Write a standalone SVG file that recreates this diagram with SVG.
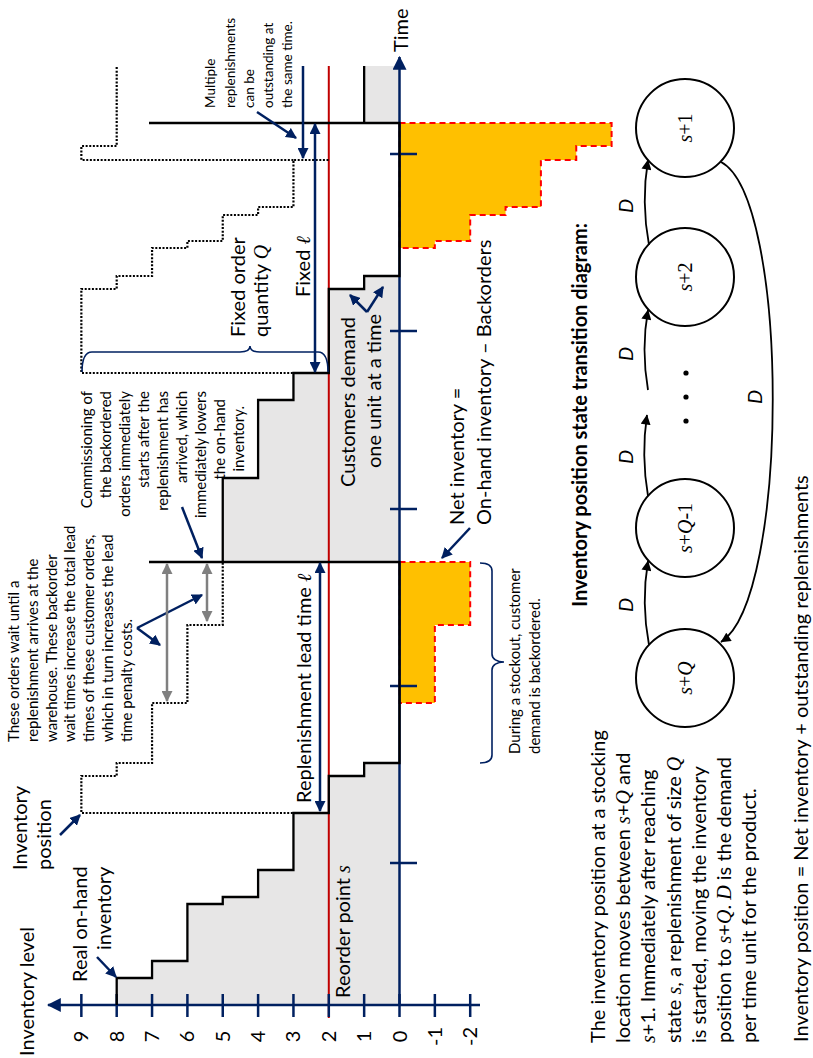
<svg xmlns="http://www.w3.org/2000/svg" width="813" height="1058" viewBox="0 0 813 1058">
<style>
text{font-family:Lato,'Open Sans',sans-serif;fill:#000}
.f20{font-size:20px}
.f15{font-size:15px}
.f13{font-size:13.5px}
.b{font-weight:bold}
.m{font-family:'Liberation Serif','DejaVu Serif',serif;font-style:italic}
.mr{font-family:'Liberation Serif','DejaVu Serif',serif;font-style:normal}
.nav{stroke:#002060;stroke-width:2.5;fill:none}
.axis{stroke:#002060;stroke-width:2.5;fill:none}
.tick{stroke:#002060;stroke-width:2.5}
.brace{stroke:#002060;stroke-width:1.6;fill:none}
.grey{stroke:#808080;stroke-width:2.5;fill:none}
.dot{stroke:#000;stroke-width:2.2;stroke-dasharray:2 1.6;fill:none}
.bo{fill:#ffc000;stroke:#ff0000;stroke-width:2;stroke-dasharray:6 4}
.onh{stroke:#000;stroke-width:2.3;fill:none}
.state{fill:#fff;stroke:#000;stroke-width:2}
.edge{stroke:#000;stroke-width:1.8;fill:none}
</style>
<defs>
<marker id="ax" viewBox="0 0 12 12" refX="11" refY="6" markerWidth="14" markerHeight="14" markerUnits="userSpaceOnUse" orient="auto"><path d="M0,0 L12,6 L0,12 z" fill="#002060"/></marker>
<marker id="na" viewBox="0 0 10 10" refX="9" refY="5" markerWidth="11" markerHeight="11" markerUnits="userSpaceOnUse" orient="auto-start-reverse"><path d="M0,0 L10,5 L0,10 z" fill="#002060"/></marker>
<marker id="ga" viewBox="0 0 10 10" refX="9" refY="5" markerWidth="11" markerHeight="11" markerUnits="userSpaceOnUse" orient="auto-start-reverse"><path d="M0,0 L10,5 L0,10 z" fill="#808080"/></marker>
<marker id="ka" viewBox="0 0 10 10" refX="9.5" refY="5" markerWidth="11" markerHeight="10" markerUnits="userSpaceOnUse" orient="auto"><path d="M0,0 L10,5 L0,10 z" fill="#000"/></marker>
</defs>
<g transform="translate(0,1058) rotate(-90)">
<g id="chart">
<path id="onhand-fill" d="M53,399.5 V116.7 H80 V152.05 H97 V187.4 H154 V222.75 H161 V258.1 H188 V293.45 H245 V328.8 H282 V364.15 H295 V399.5 H496 V222.75 H580 V258.1 H658 V293.45 H685 V328.8 H769 V364.15 H782 V399.5 H935 V364.15 H992 V399.5 Z" fill="#e7e6e6"/>
<path id="backorders-1" class="bo" d="M496,399.5 V470.2 H433 V434.85 H355 V399.5 Z"/>
<path id="backorders-2" class="bo" d="M935,399.5 V611.6 H912 V576.25 H898 V540.9 H851 V505.55 H843 V470.2 H817 V434.85 H810 V399.5 Z"/>
<line id="reorder-line" x1="40" y1="328.8" x2="992" y2="328.8" stroke="#c00000" stroke-width="2"/>
<g id="inventory-position">
<path class="dot" d="M245,328.8 V81.35 H282 V116.7 H295 V152.05 H355 V187.4 H433 V222.75 H496"/>
<path class="dot" d="M685,328.8 V81.35 H769 V116.7 H782 V152.05 H810 V187.4 H817 V222.75 H843 V258.1 H851 V293.45 H898 V328.8"/>
<path class="dot" d="M898,293.45 V81.35 H912 V116.7 H992"/>
</g>
<g id="axes">
<line class="axis" x1="53" y1="480" x2="53" y2="48" marker-end="url(#ax)"/>
<line class="axis" x1="53" y1="399.5" x2="1001" y2="399.5" marker-end="url(#ax)"/>
<g class="tick">
<line x1="41" y1="81.35" x2="64" y2="81.35"/><line x1="41" y1="116.7" x2="64" y2="116.7"/><line x1="41" y1="152.05" x2="64" y2="152.05"/><line x1="41" y1="187.4" x2="64" y2="187.4"/><line x1="41" y1="222.75" x2="64" y2="222.75"/><line x1="41" y1="258.1" x2="64" y2="258.1"/><line x1="41" y1="293.45" x2="64" y2="293.45"/><line x1="41" y1="328.8" x2="64" y2="328.8"/><line x1="41" y1="364.15" x2="64" y2="364.15"/><line x1="41" y1="399.5" x2="64" y2="399.5"/><line x1="41" y1="434.85" x2="64" y2="434.85"/><line x1="41" y1="470.2" x2="64" y2="470.2"/>
<line x1="195" y1="390" x2="195" y2="417"/><line x1="372" y1="390" x2="372" y2="417"/><line x1="549" y1="390" x2="549" y2="417"/><line x1="727" y1="390" x2="727" y2="417"/><line x1="904" y1="390" x2="904" y2="417"/>
</g>
<g class="f20" text-anchor="middle">
<text x="21.5" y="88.3">9</text><text x="21.5" y="123.7">8</text><text x="21.5" y="159">7</text><text x="21.5" y="194.4">6</text><text x="21.5" y="229.7">5</text><text x="21.5" y="265.1">4</text><text x="21.5" y="300.4">3</text><text x="21.5" y="335.8">2</text><text x="21.5" y="371.1">1</text><text x="21.5" y="406.5">0</text><text x="21.5" y="441.8">-1</text><text x="21.5" y="477.2">-2</text>
</g>
<text class="f20" x="2" y="34">Inventory level</text>
<text class="f20" x="1006" y="408">Time</text>
</g>
<path id="onhand-line" class="onh" d="M53,116.7 H80 V152.05 H97 V187.4 H154 V222.75 H161 V258.1 H188 V293.45 H245 V328.8 H282 V364.15 H295 V399.5 H496 V222.75 H580 V258.1 H658 V293.45 H685 V328.8 H769 V364.15 H782 V399.5 H935 V364.15 H992 M496,149 V399.5 M935,149 V399.5"/>
</g>
<g id="annotations">
<text class="f20" x="76" y="87">Real on-hand</text>
<text class="f20" x="108" y="111">inventory</text>
<text class="f20" x="188" y="27">Inventory</text>
<text class="f20" x="188" y="51">position</text>
<text class="f20" x="60" y="350">Reorder point <tspan class="m">s</tspan></text>
<text class="f20" x="255" y="311">Replenishment lead time <tspan class="m">ℓ</tspan></text>
<text class="f20" x="761" y="310">Fixed <tspan class="m">ℓ</tspan></text>
<text class="f20" x="721" y="245">Fixed order</text>
<text class="f20" x="721" y="268">quantity <tspan class="m">Q</tspan></text>
<text class="f20" x="571" y="355">Customers demand</text>
<text class="f20" x="590" y="381">one unit at a time</text>
<text class="f20" x="533" y="464">Net inventory =</text>
<text class="f20" x="533" y="491">On-hand inventory – Backorders</text>
<text class="f15" x="304" y="520">During a stockout, customer</text>
<text class="f15" x="304" y="540">demand is backordered.</text>
<g class="f15">
<text x="316" y="19">These orders wait until a</text>
<text x="316" y="37.8">replenishment arrives at the</text>
<text x="316" y="56.6">warehouse. These backorder</text>
<text x="316" y="75.4">wait times increase the total lead</text>
<text x="316" y="94.2">times of these customer orders,</text>
<text x="316" y="113">which in turn increases the lead</text>
<text x="316" y="131.8">time penalty costs.</text>
</g>
<g class="f15" text-anchor="end">
<text x="667" y="92">Commissioning of</text>
<text x="667" y="111">the backordered</text>
<text x="667" y="130">orders immediately</text>
<text x="667" y="149">starts after the</text>
<text x="667" y="168">replenishment has</text>
<text x="667" y="187">arrived, which</text>
<text x="667" y="206">immediately lowers</text>
<text x="659" y="225">the on-hand</text>
<text x="652" y="244">inventory.</text>
</g>
<g class="f13">
<text x="950" y="215">Multiple</text>
<text x="950" y="235">replenishments</text>
<text x="950" y="254">can be</text>
<text x="950" y="273">outstanding at</text>
<text x="950" y="292">the same time.</text>
</g>
<path class="brace" d="M686,82 C697,82 706,84 706,92 V240 C706,246 708,250 712,250 C708,250 706,254 706,260 V318 C706,326 697,328 686,328"/>
<path class="brace" d="M295,480 C295,487 297,492 303,492 H388 C393,492 396,497 396,504 C396,497 399,492 404,492 H487 C493,492 495,487 495,480"/>
<g id="annotation-arrows">
<line class="nav" x1="101" y1="97" x2="81" y2="116" marker-end="url(#na)"/>
<line class="nav" x1="223" y1="60" x2="243" y2="80" marker-end="url(#na)"/>
<line class="nav" x1="530" y1="470" x2="500" y2="442" marker-end="url(#na)"/>
<line class="nav" x1="551" y1="182" x2="500" y2="202" marker-end="url(#na)"/>
<line class="nav" x1="430" y1="137" x2="413" y2="160" marker-end="url(#na)"/>
<line class="nav" x1="430" y1="137" x2="463" y2="202" marker-end="url(#na)"/>
<line class="nav" x1="746" y1="367" x2="763" y2="350" marker-end="url(#na)"/>
<line class="nav" x1="746" y1="367" x2="771" y2="383" marker-end="url(#na)"/>
<line class="nav" x1="946" y1="257" x2="920" y2="296" marker-end="url(#na)"/>
<line class="nav" x1="992" y1="303" x2="900" y2="303" marker-end="url(#na)"/>
<line class="nav" x1="247" y1="320" x2="495" y2="320" marker-start="url(#na)" marker-end="url(#na)"/>
<line class="nav" x1="686" y1="315" x2="934" y2="315" marker-start="url(#na)" marker-end="url(#na)"/>
<line class="grey" x1="357" y1="167" x2="494" y2="167" marker-start="url(#ga)" marker-end="url(#ga)"/>
<line class="grey" x1="437" y1="207" x2="494" y2="207" marker-start="url(#ga)" marker-end="url(#ga)"/>
</g>
</g>
<g id="state-diagram">
<text class="f20 b" x="643" y="587" text-anchor="middle">Inventory position state transition diagram:</text>
<g id="state-s1"><circle class="state" cx="930" cy="685" r="49"/><text class="mr f20" x="930" y="692" text-anchor="middle"><tspan class="m">s</tspan>+1</text></g>
<g id="state-s2"><circle class="state" cx="781" cy="685" r="49"/><text class="mr f20" x="781" y="692" text-anchor="middle"><tspan class="m">s</tspan>+2</text></g>
<g id="state-sQ1"><circle class="state" cx="530" cy="685" r="49"/><text class="mr f20" x="530" y="692" text-anchor="middle"><tspan class="m">s</tspan>+<tspan class="m">Q</tspan>-1</text></g>
<g id="state-sQ"><circle class="state" cx="380" cy="685" r="49"/><text class="mr f20" x="380" y="692" text-anchor="middle"><tspan class="m">s</tspan>+<tspan class="m">Q</tspan></text></g>
<g id="dots"><circle cx="685" cy="686" r="2.6"/><circle cx="661" cy="686" r="2.6"/><circle cx="637" cy="686" r="2.6"/></g>
<g id="connectors">
<path class="edge" d="M413,649 Q455,641 497,648" marker-end="url(#ka)"/>
<path class="edge" d="M562,648 Q603,641 643,647" marker-end="url(#ka)"/>
<path class="edge" d="M668,648 Q709,641 748,648" marker-end="url(#ka)"/>
<path class="edge" d="M813,649 Q856,641 898,648" marker-end="url(#ka)"/>
<path class="edge" d="M896,721 C860,790 460,790 416,721" marker-end="url(#ka)"/>
</g>
<g class="m f20" text-anchor="middle">
<text x="453" y="633">D</text><text x="601" y="633">D</text><text x="704" y="633">D</text><text x="852" y="633">D</text><text x="661" y="762">D</text>
</g>
<g class="f20">
<text x="15" y="605">The inventory position at a stocking</text>
<text x="15" y="630.2">location moves between <tspan class="m">s</tspan>+<tspan class="m">Q</tspan> and</text>
<text x="15" y="655.4"><tspan class="m">s</tspan>+1. Immediately after reaching</text>
<text x="15" y="680.6">state <tspan class="m">s</tspan>, a replenishment of size <tspan class="m">Q</tspan></text>
<text x="15" y="705.8">is started, moving the inventory</text>
<text x="15" y="731">position to <tspan class="m">s</tspan>+<tspan class="m">Q</tspan>. <tspan class="m">D</tspan> is the demand</text>
<text x="15" y="756.2">per time unit for the product.</text>
<text x="16" y="808">Inventory position = Net inventory + outstanding replenishments</text>
</g>
</g>
</g>
</svg>
